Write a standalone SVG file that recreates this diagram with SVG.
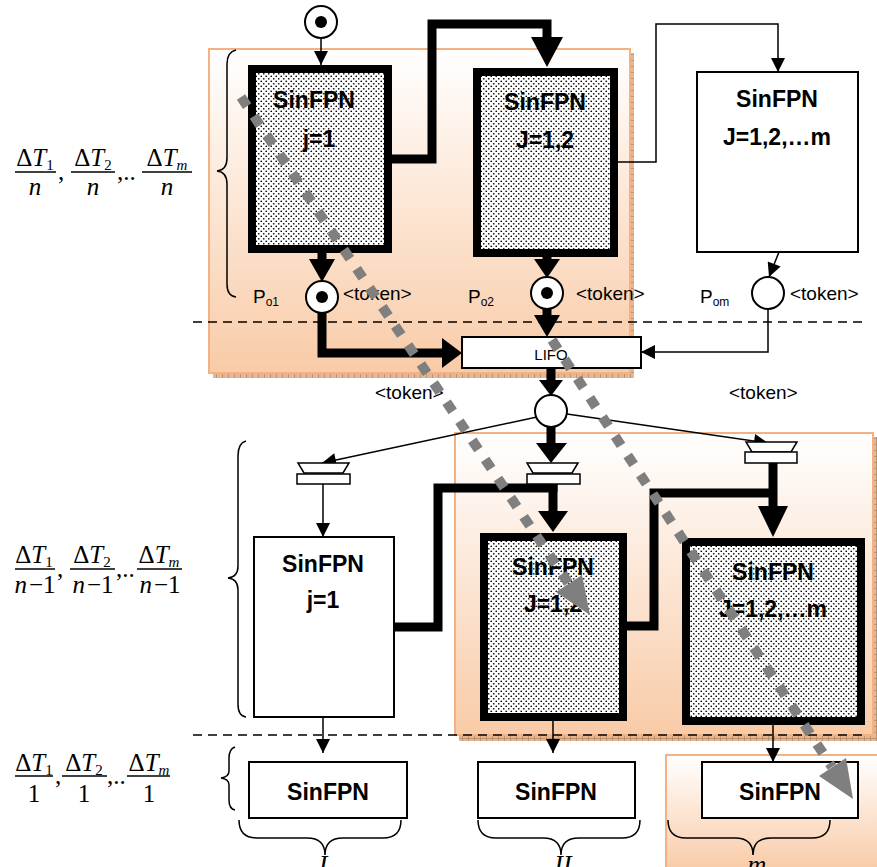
<svg xmlns="http://www.w3.org/2000/svg" width="877" height="867" viewBox="0 0 877 867">
<defs>
<linearGradient id="peach" x1="0" y1="0" x2="0" y2="1">
<stop offset="0" stop-color="#ffffff"/>
<stop offset="1" stop-color="#f9cba7"/>
</linearGradient>
<pattern id="dots" width="5" height="5" patternUnits="userSpaceOnUse">
<rect width="5" height="5" fill="#ffffff"/>
<circle cx="1.25" cy="1.25" r="0.85" fill="#000"/>
<circle cx="3.75" cy="3.75" r="0.85" fill="#000"/>
</pattern>
<pattern id="tex" width="6" height="6" patternUnits="userSpaceOnUse">
<rect width="6" height="6" fill="#e4b694"/>
<path d="M0 0.5H6M0.5 0V6" stroke="#b88a68" stroke-width="0.8"/>
</pattern>
<marker id="ah" viewBox="0 0 10 10" refX="10" refY="5" markerUnits="userSpaceOnUse" markerWidth="15" markerHeight="14" orient="auto">
<path d="M0,0 L10,5 L0,10 z" fill="#000"/>
</marker>
</defs>
<style>
.panel{fill:url(#peach);stroke:#f4b183;stroke-width:2}
.shadow{fill:url(#tex)}
.dash{stroke:#000;stroke-width:1.5;stroke-dasharray:9 6;fill:none}
.brace{fill:none;stroke:#000;stroke-width:1.5}
.thin{fill:none;stroke:#000;stroke-width:1.5;marker-end:url(#ah)}
.thick{fill:none;stroke:#000;stroke-width:9}
.head{fill:#000}
.shaded{fill:url(#dots);stroke:#000;stroke-width:8}
.plain{fill:#fff;stroke:#000;stroke-width:2}
.place{fill:#fff;stroke:#000;stroke-width:2}
.tok{fill:#000}
.trans{fill:#fff;stroke:#000;stroke-width:1.5}
.nt{font-family:"Liberation Sans",Arial,sans-serif;font-weight:bold;font-size:23px;text-anchor:middle;fill:#000}
.lbl{font-family:"Liberation Sans",Arial,sans-serif;font-size:19px;fill:#000}
.math{font-family:"Liberation Serif","Times New Roman",serif;font-size:25px;fill:#000}
.sub{font-size:15px}
.it{font-style:italic}
.gray{fill:none;stroke:#7f7f7f;stroke-width:10;stroke-dasharray:11 12}
.ghead{fill:#7f7f7f}
</style>

<!-- background panels -->
<g id="panels">
<rect class="shadow" x="213" y="53" width="421" height="325"/>
<rect class="panel" x="209" y="49" width="421" height="324"/>
<rect class="shadow" x="459" y="437" width="418" height="304"/>
<rect class="panel" x="455" y="433" width="418" height="302"/>
<rect class="panel" x="666" y="755" width="215" height="115"/>
</g>

<!-- dashed separators -->
<g id="separators">
<line class="dash" x1="193" y1="322" x2="862" y2="322"/>
<line class="dash" x1="193" y1="735" x2="862" y2="735"/>
</g>

<!-- braces -->
<g id="braces">
<path class="brace" d="M236,50 Q227,52 227,64 L227,158 Q227,170 217,171 Q227,172 227,184 L227,284 Q227,296 236,297"/>
<path class="brace" d="M246,441 Q238,443 238,456 L238,566 Q238,577 228,578 Q238,579 238,590 L238,704 Q238,716 246,717"/>
<path class="brace" d="M235,747 Q229,749 229,758 L229,771 Q229,777 221,778 Q229,779 229,785 L229,800 Q229,809 235,810"/>
<path class="brace" d="M239,820 Q239,838 257,838 L307,838 Q325,838 325,855 Q325,838 343,838 L383,838 Q401,838 401,820"/>
<path class="brace" d="M478,820 Q478,838 496,838 L543,838 Q561,838 561,855 Q561,838 579,838 L622,838 Q640,838 640,820"/>
<path class="brace" d="M668,820 Q668,838 686,838 L735,838 Q753,838 753,855 Q753,838 771,838 L812,838 Q830,838 830,820"/>
</g>

<!-- formulas -->
<g id="formulas">
<g class="math">
<text x="35" y="166" text-anchor="middle">Δ<tspan class="it">T</tspan><tspan class="sub" dy="4">1</tspan></text>
<line x1="15" y1="172" x2="56" y2="172" stroke="#000" stroke-width="1.3"/>
<text x="35" y="195" text-anchor="middle" class="it">n</text>
<text x="58" y="180">,</text>
<text x="93" y="166" text-anchor="middle">Δ<tspan class="it">T</tspan><tspan class="sub" dy="4">2</tspan></text>
<line x1="71" y1="172" x2="115" y2="172" stroke="#000" stroke-width="1.3"/>
<text x="93" y="195" text-anchor="middle" class="it">n</text>
<text x="117" y="180">,..</text>
<text x="167" y="166" text-anchor="middle">Δ<tspan class="it">T</tspan><tspan class="sub it" dy="4">m</tspan></text>
<line x1="142" y1="172" x2="192" y2="172" stroke="#000" stroke-width="1.3"/>
<text x="167" y="195" text-anchor="middle" class="it">n</text>

<text x="34" y="563" text-anchor="middle">Δ<tspan class="it">T</tspan><tspan class="sub" dy="4">1</tspan></text>
<line x1="15" y1="569" x2="55" y2="569" stroke="#000" stroke-width="1.3"/>
<text x="35" y="593" text-anchor="middle"><tspan class="it">n</tspan><tspan dx="2">−1</tspan></text>
<text x="57" y="577">,</text>
<text x="92" y="563" text-anchor="middle">Δ<tspan class="it">T</tspan><tspan class="sub" dy="4">2</tspan></text>
<line x1="70" y1="569" x2="115" y2="569" stroke="#000" stroke-width="1.3"/>
<text x="93" y="593" text-anchor="middle"><tspan class="it">n</tspan><tspan dx="2">−1</tspan></text>
<text x="116" y="577">,..</text>
<text x="159" y="563" text-anchor="middle">Δ<tspan class="it">T</tspan><tspan class="sub it" dy="4">m</tspan></text>
<line x1="137" y1="569" x2="182" y2="569" stroke="#000" stroke-width="1.3"/>
<text x="160" y="593" text-anchor="middle"><tspan class="it">n</tspan><tspan dx="2">−1</tspan></text>

<text x="34" y="771" text-anchor="middle">Δ<tspan class="it">T</tspan><tspan class="sub" dy="4">1</tspan></text>
<line x1="15" y1="776" x2="53" y2="776" stroke="#000" stroke-width="1.3"/>
<text x="34" y="802" text-anchor="middle">1</text>
<text x="55" y="784">,</text>
<text x="84" y="771" text-anchor="middle">Δ<tspan class="it">T</tspan><tspan class="sub" dy="4">2</tspan></text>
<line x1="62" y1="776" x2="107" y2="776" stroke="#000" stroke-width="1.3"/>
<text x="84" y="802" text-anchor="middle">1</text>
<text x="107" y="784">,..</text>
<text x="149" y="771" text-anchor="middle">Δ<tspan class="it">T</tspan><tspan class="sub it" dy="4">m</tspan></text>
<line x1="127" y1="776" x2="170" y2="776" stroke="#000" stroke-width="1.3"/>
<text x="149" y="802" text-anchor="middle">1</text>

<text x="323" y="873" text-anchor="middle" class="it" font-size="26">I</text>
<text x="563" y="873" text-anchor="middle" class="it" font-size="26">II</text>
<text x="757" y="873" text-anchor="middle" class="it" font-size="26">m</text>
</g>
</g>

<!-- connectors -->
<g id="connectors">
<line class="thin" x1="321" y1="38" x2="321" y2="65"/>
<path class="thick" d="M392,159 H432 V24 H547 V40"/>
<polygon class="head" points="531,37 563,37 547,67"/>
<path class="thin" d="M618,162 H656 V24 H778 V72"/>
<line class="thin" x1="779" y1="252" x2="769" y2="277"/>
<path class="thick" d="M322,252 V262"/>
<polygon class="head" points="309,259 335,259 322,282"/>
<path class="thick" d="M547,256 V262"/>
<polygon class="head" points="534,259 560,259 547,278"/>
<path class="thick" d="M322,312 V353 H445" stroke-width="8"/>
<polygon class="head" points="442,338 442,368 462,353"/>
<path class="thick" d="M547,308 V318"/>
<polygon class="head" points="534,315 560,315 547,337"/>
<path class="thin" d="M768,309 V352 H641"/>
<path class="thick" d="M551,368 V382"/>
<polygon class="head" points="539,380 563,380 551,396"/>
<line class="thin" x1="537" y1="417" x2="322" y2="463"/>
<line class="thin" x1="567" y1="414" x2="768" y2="443" stroke-width="1"/>
<path class="thick" d="M551,426 V446"/>
<polygon class="head" points="536,443 567,443 551,463"/>
<line class="thin" x1="323" y1="484" x2="323" y2="537"/>
<path class="thick" d="M394,627 H438 V488 H553 V514"/>
<path class="thick" d="M553,483 V492"/>
<polygon class="head" points="538,511 568,511 553,532"/>
<path class="thick" d="M627,626 H654 V493 H773"/>
<path class="thick" d="M773,462 V509"/>
<polygon class="head" points="758,506 788,506 773,537"/>
<line class="thin" x1="323" y1="717" x2="323" y2="753"/>
<line class="thin" x1="553" y1="721" x2="553" y2="753"/>
<line class="thin" x1="773" y1="725" x2="773" y2="762"/>
</g>

<!-- places -->
<g id="p_in"><circle class="place" cx="321" cy="22" r="16"/><circle class="tok" cx="321" cy="22" r="6"/></g>
<g id="p_o1"><circle class="place" cx="322" cy="297" r="16"/><circle class="tok" cx="322" cy="297" r="6"/>
<text class="lbl" x="253" y="303">P<tspan font-size="12" dy="3">o1</tspan></text>
<text class="lbl" x="343" y="300">&lt;token&gt;</text></g>
<g id="p_o2"><circle class="place" cx="547" cy="293" r="16"/><circle class="tok" cx="547" cy="293" r="6"/>
<text class="lbl" x="468" y="303">P<tspan font-size="12" dy="3">o2</tspan></text>
<text class="lbl" x="576" y="300">&lt;token&gt;</text></g>
<g id="p_om"><circle class="place" cx="768" cy="293" r="16"/>
<text class="lbl" x="700" y="303">P<tspan font-size="12" dy="3">om</tspan></text>
<text class="lbl" x="790" y="300">&lt;token&gt;</text></g>
<g id="lifo"><rect x="462" y="337" width="179" height="31" fill="#fff" stroke="#000" stroke-width="2"/>
<text x="551" y="360" font-family="Liberation Sans, Arial, sans-serif" font-size="15" text-anchor="middle">LIFO</text></g>
<g id="p_mid"><circle class="place" cx="551" cy="411" r="16"/>
<text class="lbl" x="375" y="399">&lt;token&gt;</text>
<text class="lbl" x="729" y="399">&lt;token&gt;</text></g>

<!-- transitions -->
<g id="t1"><polygon class="trans" points="298,463 349,463 343,473 304,473"/><rect class="trans" x="297" y="474" width="53" height="10"/></g>
<g id="t2"><polygon class="trans" points="527,463 578,463 572,473 533,473"/><rect class="trans" x="527" y="474" width="53" height="10"/></g>
<g id="t3"><polygon class="trans" points="746,442 797,442 791,452 752,452"/><rect class="trans" x="745" y="452" width="52" height="11"/></g>

<!-- nodes -->
<g id="n_top1"><rect class="shaded" x="252" y="69" width="136" height="180"/>
<text class="nt" x="314" y="108">SinFPN</text><text class="nt" x="319" y="147">j=1</text></g>
<g id="n_top2"><rect class="shaded" x="477" y="72" width="137" height="181"/>
<text class="nt" x="545" y="110">SinFPN</text><text class="nt" x="545" y="148">J=1,2</text></g>
<g id="n_top3"><rect class="plain" x="697" y="72" width="161" height="180"/>
<text class="nt" x="777" y="107">SinFPN</text><text class="nt" x="777" y="145">J=1,2,…m</text></g>
<g id="n_mid1"><rect class="plain" x="254" y="537" width="140" height="180"/>
<text class="nt" x="323" y="572">SinFPN</text><text class="nt" x="323" y="608">j=1</text></g>
<g id="n_mid2"><rect class="shaded" x="484" y="537" width="139" height="180"/>
<text class="nt" x="553" y="575">SinFPN</text><text class="nt" x="553" y="612">J=1,2</text></g>
<g id="n_mid3"><rect class="shaded" x="686" y="542" width="175" height="179"/>
<text class="nt" x="773" y="580">SinFPN</text><text class="nt" x="773" y="617">J=1,2,…m</text></g>
<g id="n_bot1"><rect class="plain" x="249" y="762" width="158" height="56"/><text class="nt" x="328" y="800">SinFPN</text></g>
<g id="n_bot2"><rect class="plain" x="478" y="762" width="157" height="56"/><text class="nt" x="556" y="800">SinFPN</text></g>
<g id="n_bot3"><rect class="plain" x="702" y="762" width="156" height="56"/><text class="nt" x="780" y="800">SinFPN</text></g>

<!-- gray dotted flow arrows -->
<g id="flows">
<line class="gray" x1="241" y1="97" x2="569" y2="584"/>
<polygon class="ghead" points="582,575 556,592 590,615"/>
<line class="gray" x1="552" y1="340" x2="832" y2="767"/>
<polygon class="ghead" points="846,758 819,776 853,799"/>
</g>
</svg>
